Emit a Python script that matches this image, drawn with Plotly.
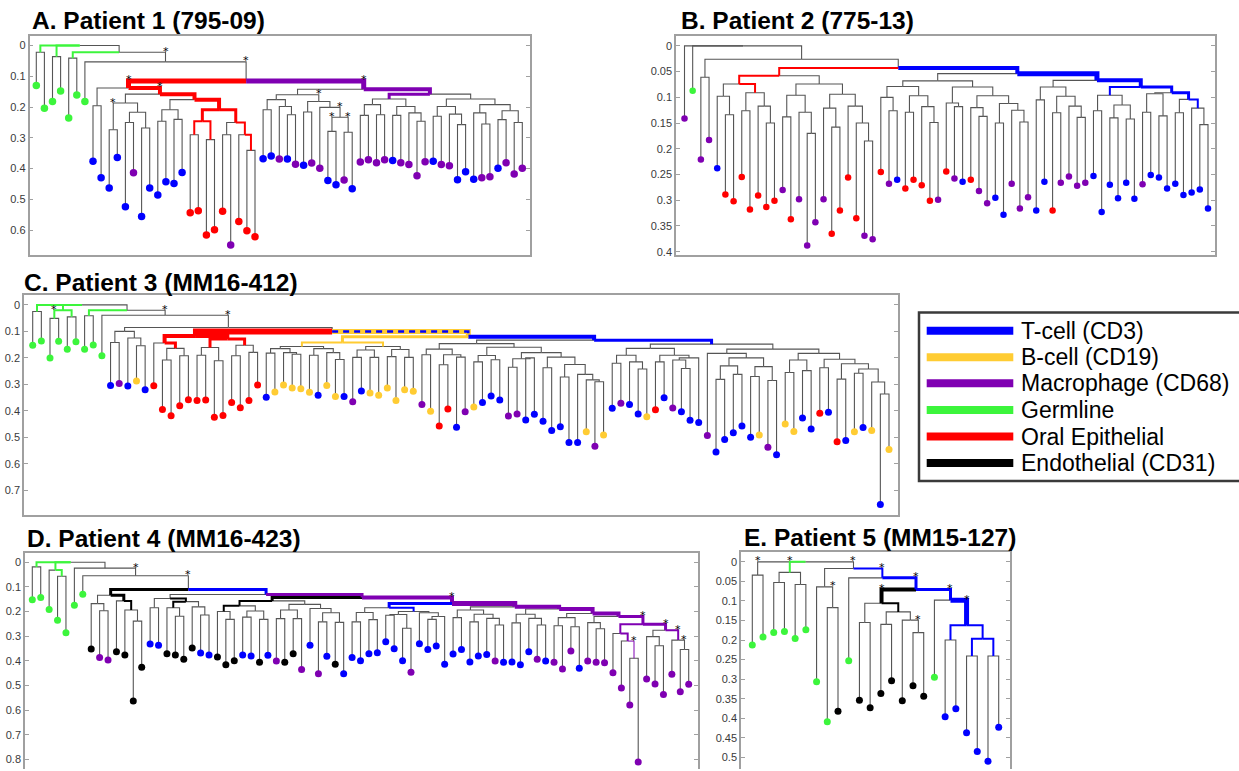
import re
import plotly.graph_objects as go

W, H = 1239, 771

COLORS = {'b': '#0000FF', 'y': '#FFCC33', 'p': '#7F00B2',
          'g': '#3CF53C', 'r': '#FF0000', 'k': '#000000'}
GREY = '#555555'
FRAME = '#A0A0A0'

LEGEND_CODES = ['b', 'y', 'p', 'g', 'r', 'k']
LEGEND_LABELS = ['T-cell (CD3)', 'B-cell (CD19)', 'Macrophage (CD68)',
                 'Germline', 'Oral Epithelial', 'Endothelial (CD31)']

TITLES = ['A. Patient 1 (795-09)', 'B. Patient 2 (775-13)', 'C. Patient 3 (MM16-412)',
          'D. Patient 4 (MM16-423)', 'E. Patient 5 (MM15-127)']

# ---------------- Patient 1 ----------------
A_TYPES = "ggggggg" + "bbbbbpbbbbbb" + "rrrrrprrr" + "bbpbpbppbbpb" + "ppppbppp" + "pbppbbbppbppp"
A_H = [.130, .204, .182, .148, .236, .161, .182,
       .376, .430, .463, .364, .524, .414, .556, .463, .486, .443, .449, .413,
       .544, .537, .616, .599, .539, .649, .572, .602, .622,
       .368, .359, .369, .369, .386, .389, .382, .399, .439, .453, .437, .466,
       .379, .371, .381, .371, .374, .381, .387, .423,
       .378, .376, .387, .391, .436, .410, .435, .430, .427, .399, .381, .418, .399]
A_R3 = "(((o,o).290:r2,(o,o).306:r2).246:r3,((o,o).290,(o,(o,o).341:r2).290:r2).250:r3).209"
A_R2 = f"(((o,o).246,(o,o).240).209,{A_R3}:r4).176"
A_R1 = f"(((o,o).274*,((o,o).250,(o,o).268).217).187,{A_R2}:r4).158*"
A_L = f"((o,o).196,{A_R1}:r4).138*"
A_G5 = "(((o,o).209,(o,(o,o).225).198).176,((o,o).216,(o,((o,o).279*,(o,o).282*).233*).201).182*).160"
A_P3 = "(((o,o).227,(o,o).225).192,((o,o).227,(o,(o,o).246).219).198).174"
A_G12 = "(((o,o).230,(o,(o,o).257).223).198,((o,(o,o).255).219,((o,o).241,(o,o).250).212).192).174"
A_P1 = f"({A_G5},({A_P3}:p3,{A_G12}).158:p4).142*"
A_TREE = f"((o,o).022:g2,(o,o).036:g2,((o,o).041:g2,(o,({A_L}:r5,{A_P1}:p5).115*).053*).022).0"

# ---------------- Patient 2 ----------------
B_TYPES = "pgppb" + "rrrrrrr" + "prpppp" + "rrrrpp" + "rpbrrrrp" + "rpbrppbbppp" + "bbrpppp" + "bbbbbbpbbbbbbbb"
B_H = [.141, .087, .221, .183, .238, .289, .302, .255, .318, .291,
       .313, .301, .280, .337, .298, .388, .343, .298, .365, .320,
       .256, .335, .369, .376, .245, .268, .260, .277, .260, .271,
       .301, .299, .244, .258, .264, .260, .282, .306, .295, .328,
       .268, .316, .294, .320, .264, .320, .266, .254, .272, .266,
       .253, .323, .270, .296, .266, .297, .269, .251, .256, .277,
       .268, .290, .285, .279, .316]
B_R1 = ("(((o,(o,o).134).098,((o,o).126,(o,(o,o).150).117).091:r2).074:r2,"
        "(((o,o).138,(o,(o,o).170).129).096,((o,(o,o).158).121,(o,(o,(o,o).185).150).117).094).074).058")
B_G10 = ("(((o,(o,o).126).100,((o,o).129,(o,(o,o).149).118).097).079,"
         "((o,(o,o).118).111,((o,(o,o).137).120,((o,o).150,(o,(o,o).148).125).112).097).080).068")
B_B3 = "(((o,o).126,((o,o).140,(o,o).142).115).096:b2,(((o,o).129,(o,o).136).093,((o,o).130,(o,(o,o).153).121:b2).104:b3).091:b3).080"
B_B2 = f"(((o,o).105,((o,o).130,(o,(o,o).139).117).098).080,{B_B3}:b4).067"
B_TREE = f"(o,o,((o,o).061,({B_R1}:r2,({B_G10},{B_B2}:b5).054:b4).043).026).0"

# ---------------- Patient 3 ----------------
C_TYPES = ("ggggggggg" + "bpbyb" + "rrrrrrrrrrrrr" + "byyyyybyyb" + "pbyyyyyy" + "pyrrbpy"
           + "bbbppbbbbbbbypy" + "bpbbyrbpbbb" + "pbbbbbypbyybbrbrbybyby")
C_H = [.152, .136, .200, .137, .167, .139, .167, .151, .192,
       .304, .297, .306, .287, .320,
       .305, .395, .418, .381, .358, .361, .359, .424, .417, .368, .388, .361, .302,
       .348, .329, .302, .314, .316, .330, .341, .304, .346, .346,
       .365, .325, .332, .341, .314, .361, .320, .326,
       .376, .401, .457, .393, .462, .403, .385,
       .368, .344, .359, .419, .412, .434, .413, .439, .474, .460, .519, .519, .479, .533, .491,
       .390, .371, .376, .412, .422, .396, .350, .389, .403, .435, .444,
       .493, .555, .508, .482, .457, .499, .491, .537, .565, .449, .478, .427, .468, .409,
       .405, .516, .512, .479, .463, .474, .753, .546]
C_R1 = ("((o,((o,o).208,(o,o).192).164:r3).144:r4,"
        "(((o,o).190,(o,o).211).161:r3,((o,o).192,(o,o).179).152:r3).129:r4).117")
C_Y1 = ("((((o,o).182,(o,(o,o).186).180).165,((o,o).190,(o,(o,o).206).180).165).157:y2,"
        "(((o,o).198,(o,o).198).170,((o,o).195,(o,o).198).168).157:y2).142")
C_GL = ("(((o,o).188,((o,o).226,(o,o).197).188).167,"
        "(((o,o).215,(o,o).207).191,(((o,o).235,(o,o).200).203,((o,o).237,((o,o).272,(o,(o,(o,o).290).283).262).225).197).180).160).146")
C_B2 = ("((((o,o).220,(o,(o,o).242).215).190,((o,o).215,((o,(o,o).240).208,o).200).190).164,"
        "((o,(((o,o).281,(o,o).262).230,((o,o).270,(o,o).285).233).200).183,"
        "(((o,o).255,(o,o).248).208,((o,o).237,((o,o).280,((o,o).258,(o,(o,o).336).291).242).222).205).183).167).148")
C_YB1 = f"({C_Y1}:y3,({C_GL},{C_B2}:b3).133:b4).120"
C_N4 = f"(((o,o).142,(o,(o,o).154).125).100,({C_R1}:r6,{C_YB1}:yb5).100).085*"
C_TREE = f"((o,o).025:g2,((o,o).051*:g2,(o,o).045:g2).020:g2,((o,o).041:g2,(o,{C_N4}).039*).020).0"

# ---------------- Patient 4 ----------------
D_TYPES = "ggggggg" + "kppkkkk" + "bbkkkkbb" + "kkkbbkbpkkpbpbkb" + "bbbbbbbpbbbb" + "bbbbbpb" + "bbbpb" + "pppb" + "ppppppppppppp"
D_H = [.152, .143, .192, .235, .286, .175, .130,
       .352, .387, .397, .363, .377, .563, .426,
       .332, .337, .371, .377, .394, .348, .368, .377,
       .385, .416, .400, .377, .381, .406, .378, .401, .406, .371, .435, .337, .453, .382, .414, .453,
       .387, .400, .371, .367, .323, .351, .400, .447, .331, .354, .340, .414,
       .372, .354, .405, .381, .375, .401, .406,
       .405, .416, .363, .394, .401,
       .406, .433, .360, .430,
       .401, .406, .408, .449, .510, .579, .811, .474, .494, .537, .455, .526, .495]
D_K1 = "((o,(o,o).197).168,(o,(o,(o,o).239).194:k2).157:k3).134"
D_G3 = "((o,o).185,((o,(o,o).219).185:k2,(o,(o,o).214).181).160:k2).147"
D_K6 = ("(((o,(o,o).232).200:k2,((o,o).223,(o,o).232).198).177:k2,"
        "(((o,o).229,(o,o).229).194,(o,((o,o).242,(o,o).244).205).188).171).157")
D_B2 = "(((o,o).242,(o,o).233).204,(((o,o).215,(o,o).268).212,(o,((o,o).232,o).220).205).200:b2).185"
D_P7 = "((o,(o,(o,o).390*:p1).320:p2).289:p2,((o,(o,o).339).302,(o,(o,o).354*).316*:p2).276*:p3).252*"
D_P5 = f"(((o,o).258,(o,o).262).225,((o,(o,o).270).245,{D_P7}:p3).220:p4).208"
D_P4 = f"(((o,o).246,(o,(o,o).255).228).211,{D_P5}:p4).190"
D_P3 = f"(((o,o).225,((o,o).242,(o,(o,o).255).228).211).194,{D_P4}:p4).181"
D_P1 = f"({D_K6}:k3,({D_B2}:b3,{D_P3}:p5).167*:p4).143"
D_N4 = f"({D_K1}:k3,({D_G3},{D_P1}:p3).131:b3).111*"
D_TREE = f"((o,o).019:g2,(o,(o,o).057:g2).032:g2,(o,(o,{D_N4}).055*).024).0"

# ---------------- Patient 5 ----------------
E_TYPES = "ggggggggkg" + "kkkkkkk" + "g" + "bbbbbb"
E_H = [.213, .192, .181, .178, .196, .174, .307, .409, .382, .253, .354, .373,
       .337, .304, .355, .317, .344, .295, .396, .376, .437, .485, .510, .423]
E_K1 = "((o,o).155,((o,o).160,(o,(o,o).181*).149).128:k2).106*"
E_B3 = "(o,((o,o).200:b2,((o,o).241:b2,(o,o).241:b2).197:b2).162*:b5).098*"
E_TREE = (f"((o,o).034*,((o,o).053,(o,o).058).027*:g2,"
          f"((o,(o,o).117*).064,(o,({E_K1}:k4,{E_B3}:b3).071*:b3).041*:b2).017*).0")

TICKS = [[0, .1, .2, .3, .4, .5, .6],
         [0, .05, .1, .15, .2, .25, .3, .35, .4],
         [0, .1, .2, .3, .4, .5, .6, .7],
         [0, .1, .2, .3, .4, .5, .6, .7, .8],
         [0, .05, .1, .15, .2, .25, .3, .35, .4, .45, .5]]

# layout geometry (pixels): box l,t,r,b ; first/last leaf x ; y of value 0 ; px per unit
PANELS = [
    dict(tree=A_TREE, types=A_TYPES, h=A_H, box=(29.5, 36, 530, 256), leaf=(36.3, 522.3), zero=45.67, unit=308.3, ms=7.5, title=(30, 21), open_bottom=False),
    dict(tree=B_TREE, types=B_TYPES, h=B_H, box=(676, 36.5, 1215, 255.7), leaf=(684.5, 1208), zero=46, unit=515.8, ms=6.5, title=(679, 21), open_bottom=False),
    dict(tree=C_TREE, types=C_TYPES, h=C_H, box=(24, 296, 898, 516), leaf=(32.7, 889), zero=305.7, unit=265.7, ms=7, title=(22, 283), open_bottom=False),
    dict(tree=D_TREE, types=D_TYPES, h=D_H, box=(25, 554, 698, 771), leaf=(32.3, 688.7), zero=563.7, unit=247, ms=7, title=(25, 540), open_bottom=True),
    dict(tree=E_TREE, types=E_TYPES, h=E_H, box=(741, 553.3, 1010, 771), leaf=(752.3, 998.7), zero=563.3, unit=392, ms=7, title=(742, 538.5), open_bottom=True),
]

NUM = re.compile(r'(\d*\.\d+|\d+)(\*?)(?::([a-z]+)(\d+(?:\.\d+)?))?')


def parse_tree(spec, types, heights):
    s = spec.replace(' ', '')
    st = {'pos': 0, 'leaf': 0}

    def node():
        p = st['pos']
        if s[p] == '(':
            st['pos'] += 1
            kids = [node()]
            while s[st['pos']] == ',':
                st['pos'] += 1
                kids.append(node())
            assert s[st['pos']] == ')', s[st['pos'] - 10:st['pos'] + 10]
            st['pos'] += 1
            m = NUM.match(s, st['pos'])
            st['pos'] = m.end()
            style = (m.group(3), float(m.group(4))) if m.group(3) else None
            return dict(kids=kids, h=float(m.group(1)), star=bool(m.group(2)), style=style)
        assert s[p] == 'o', s[p - 10:p + 10]
        st['pos'] += 1
        i = st['leaf']
        st['leaf'] += 1
        return dict(kids=None, h=heights[i], t=types[i], star=False, style=None)

    root = node()
    assert st['pos'] == len(s), (st['pos'], len(s))
    assert st['leaf'] == len(types) == len(heights), (st['leaf'], len(types), len(heights))
    return root


def assign_x(node, leaves):
    if node['kids'] is None:
        leaves.append(node)
        node['x'] = len(leaves)
    else:
        for k in node['kids']:
            assign_x(k, leaves)
        node['x'] = (node['kids'][0]['x'] + node['kids'][-1]['x']) / 2.0


def collect(node, segs, stars):
    for k in node['kids']:
        segs.setdefault(k['style'], []).append(
            [(node['x'], node['h']), (k['x'], node['h']), (k['x'], k['h'])])
        if k['star']:
            stars.append((k['x'], node['h']))
        if k['kids']:
            collect(k, segs, stars)


def fx(px):
    return px / W


def fy(py):
    return 1 - py / H


fig = go.Figure()
annotations = []
shapes = []
layout_axes = {}

for i, P in enumerate(PANELS):
    ax = '' if i == 0 else str(i + 1)
    xr, yr = 'x' + ax, 'y' + ax
    root = parse_tree(P['tree'], P['types'], P['h'])
    leaves = []
    assign_x(root, leaves)
    segs, stars = {}, []
    collect(root, segs, stars)

    keys = [None] + sorted([k for k in segs if k is not None], key=lambda k: -k[1])
    for key in keys:
        xs, ys = [], []
        for path in segs[key]:
            for (a, b) in path:
                xs.append(a)
                ys.append(b)
            xs.append(None)
            ys.append(None)
        if key is None:
            fig.add_trace(go.Scatter(x=xs, y=ys, mode='lines', line=dict(color=GREY, width=1.1),
                                     xaxis=xr, yaxis=yr, hoverinfo='skip', showlegend=False))
        else:
            code, w = key
            fig.add_trace(go.Scatter(x=xs, y=ys, mode='lines',
                                     line=dict(color=COLORS[code[0]], width=w),
                                     xaxis=xr, yaxis=yr, hoverinfo='skip', showlegend=False))
            if len(code) > 1:
                fig.add_trace(go.Scatter(x=xs, y=ys, mode='lines',
                                         line=dict(color=COLORS[code[1]], width=max(1.5, w * 0.5), dash='6px,5px'),
                                         xaxis=xr, yaxis=yr, hoverinfo='skip', showlegend=False))

    for code in LEGEND_CODES:
        pts = [lf for lf in leaves if lf['t'] == code]
        if not pts:
            continue
        fig.add_trace(go.Scatter(x=[lf['x'] for lf in pts], y=[lf['h'] for lf in pts], mode='markers',
                                 marker=dict(color=COLORS[code], size=P['ms'], line=dict(width=0)),
                                 xaxis=xr, yaxis=yr, hoverinfo='skip', showlegend=False))

    for (sx, sy) in stars:
        annotations.append(dict(x=sx, y=sy, xref=xr, yref=yr, text='*', showarrow=False,
                                xanchor='center', yanchor='middle', yshift=1,
                                font=dict(size=11, color='#000000', family='DejaVu Sans')))

    L, T, R, B = P['box']
    n = len(leaves)
    d = (P['leaf'][1] - P['leaf'][0]) / (n - 1)
    xa = 1 - (P['leaf'][0] - L) / d
    xb = n + (R - P['leaf'][1]) / d
    ybot = (B - P['zero']) / P['unit']
    ytop = (T - P['zero']) / P['unit']

    xaxis = dict(domain=[fx(L), fx(R)], range=[xa, xb], showline=True, linecolor=FRAME, linewidth=1.5,
                 showticklabels=False, ticks='', showgrid=False, zeroline=False, anchor=yr)
    if P['open_bottom']:
        xaxis.update(side='top', mirror=False)
    else:
        xaxis.update(mirror=True)
    yaxis = dict(domain=[max(0, fy(B)), fy(T)], range=[ybot, ytop], showline=True, linecolor=FRAME,
                 linewidth=1.5, mirror='ticks', ticks='inside', ticklen=4, tickwidth=1, tickcolor=FRAME,
                 tickvals=TICKS[i], ticktext=[f"{v:g}" for v in TICKS[i]],
                 tickfont=dict(size=11, color='#3a3a3a', family='Liberation Sans, Arial'),
                 showgrid=False, zeroline=False, anchor=xr)
    layout_axes['xaxis' + ax] = xaxis
    layout_axes['yaxis' + ax] = yaxis

    tx, ty = P['title']
    annotations.append(dict(x=fx(tx), y=fy(ty), xref='paper', yref='paper', xanchor='left', yanchor='middle',
                            text='<b>' + TITLES[i] + '</b>', showarrow=False,
                            font=dict(size=24.5, color='black', family='Liberation Sans, Arial')))

# legend box
shapes.append(dict(type='rect', xref='paper', yref='paper', x0=fx(919), x1=fx(1250), y0=fy(482.3), y1=fy(313.3),
                   line=dict(color='#3a3a3a', width=2.5), fillcolor='white', layer='below'))
row_y = [331.7, 358.3, 384.3, 411, 437.7, 464.3]
for code, label, ry in zip(LEGEND_CODES, LEGEND_LABELS, row_y):
    shapes.append(dict(type='line', xref='paper', yref='paper', x0=fx(926.7), x1=fx(1013.3), y0=fy(ry), y1=fy(ry),
                       line=dict(color=COLORS[code], width=8)))
    annotations.append(dict(x=fx(1019), y=fy(ry), xref='paper', yref='paper', xanchor='left', yanchor='middle',
                            text=label, showarrow=False,
                            font=dict(size=23, color='black', family='Liberation Sans, Arial')))

fig.update_layout(width=W, height=H, margin=dict(l=0, r=0, t=0, b=0), paper_bgcolor='white',
                  plot_bgcolor='white', showlegend=False, annotations=annotations, shapes=shapes,
                  **layout_axes)

fig.write_html("out.html")
